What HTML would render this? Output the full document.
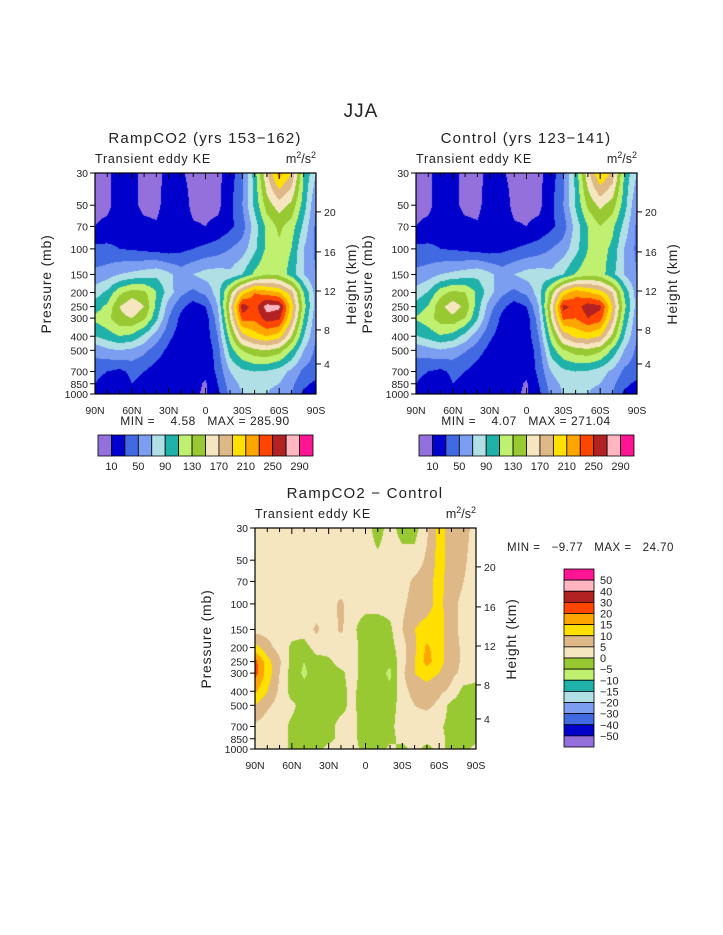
<!DOCTYPE html>
<html><head><meta charset="utf-8">
<style>
html,body{margin:0;padding:0;background:#fff;}
#root{position:relative;width:723px;height:935px;overflow:hidden;font-family:"Liberation Sans",sans-serif;}
canvas{position:absolute;}
svg{position:absolute;left:0;top:0;}
svg text{white-space:pre;}
</style></head>
<body>
<div id="root">
<canvas id="c1" width="221" height="221" style="left:95px;top:173px"></canvas>
<canvas id="c2" width="221" height="221" style="left:416px;top:173px"></canvas>
<canvas id="c3" width="221" height="221" style="left:255px;top:528px"></canvas>
<svg id="svg" width="723" height="935">
<text x="361" y="117" font-size="19" text-anchor="middle" fill="#222" letter-spacing="1">JJA</text>
</svg>
</div>
<script>
// ---- data ----
const pLevels = [1000,850,700,500,400,300,250,200,150,100,70,50,30];
const latLabels = ["90N","60N","30N","0","30S","60S","90S"];
const pTickLabels = [30,50,70,100,150,200,250,300,400,500,700,850,1000];
const kmTicks = [4,8,12,16,20];
const keLevels = [10,30,50,70,90,110,130,150,170,190,210,230,250,270,290];
const diffLevels = [-50,-40,-30,-20,-15,-10,-5,0,5,10,15,20,30,40,50];
const colors = ["#9370db","#0000cd","#4169e1","#7b9ef0","#b0e0e6","#20b2aa","#c0f070","#98c832","#f5e6c0","#deb887","#ffe000","#ffa500","#ff4500","#b22222","#ffb6c1","#ff1493"];
const rampKE = [
[20,15,18,30,25,15,15,15,12,8,25,55,70,75,70,60,50,25,20],
[30,15,15,30,25,15,15,15,15,8,30,60,75,80,75,70,55,35,25],
[40,30,25,35,30,20,15,12,12,15,35,70,85,90,88,80,65,45,40],
[55,65,70,65,55,40,25,15,10,15,40,100,130,145,150,140,110,70,45],
[90,100,110,105,85,60,35,20,12,18,50,120,180,200,210,200,150,90,50],
[115,125,145,150,135,95,50,25,15,20,60,150,240,235,260,255,190,110,55],
[100,115,150,165,150,105,60,35,20,30,70,160,262,240,280,275,200,120,60],
[80,95,125,140,135,110,80,55,45,55,80,140,200,230,220,210,180,110,60],
[55,60,70,75,80,85,75,60,70,78,80,75,90,115,130,125,100,70,50],
[35,35,30,28,25,22,20,25,30,35,40,50,60,85,115,125,110,70,45],
[10,15,20,20,15,12,20,20,12,10,15,25,40,80,115,135,120,85,45],
[5,5,20,15,5,5,20,20,5,5,5,25,50,95,140,160,145,100,50],
[5,5,20,15,5,5,15,12,5,5,5,20,45,100,170,220,190,110,70]];
const controlKE = [
[20,15,18,30,25,15,15,15,12,8,25,55,70,75,70,60,50,25,20],
[30,15,15,30,25,15,15,15,15,8,30,60,75,80,75,70,55,35,25],
[40,30,25,35,30,20,15,12,12,15,35,70,85,90,88,80,65,45,40],
[55,62,68,62,52,38,24,15,10,15,40,98,128,140,145,135,105,68,45],
[88,98,108,102,82,58,34,20,12,18,50,118,175,195,200,190,145,88,50],
[112,122,140,145,130,92,50,25,15,20,60,148,235,230,250,240,180,105,55],
[98,112,145,160,145,100,58,35,20,30,70,158,258,240,262,255,190,115,60],
[78,92,122,136,130,106,78,55,45,55,80,138,198,225,212,200,172,105,60],
[55,60,70,75,80,85,75,60,70,78,80,75,90,112,125,120,96,68,50],
[35,35,30,28,25,22,20,25,30,35,40,50,60,82,110,120,105,68,45],
[10,15,20,20,15,12,20,20,12,10,15,25,40,78,110,130,115,82,45],
[5,5,20,15,5,5,20,20,5,5,5,25,50,92,135,155,140,98,50],
[5,5,20,15,5,5,15,12,5,5,5,20,45,96,165,212,185,105,70]];
const diffKE = [
[2,2,2,-1,-2,-1,1,2,1,-1,-2,1,-1,1,-1,1,-1,-2,2],
[2,2,2,-1,-2,-1,-1,1,1,-2,-3,-1,1,1,1,1,-1,-2,-2],
[4,2,2,-1,-2,-2,-1,1,1,-2,-3,-1,2,3,2,1,-2,-3,-2],
[10,6,3,1,-2,-2,-1,-1,1,-3,-3,-2,2,5,6,4,-2,-3,-2],
[16,10,4,-2,-3,-2,-2,-1,1,-3,-3,-4,3,7,8,6,4,-2,-2],
[22,13,5,-2,-6,-2,-2,-1,2,-3,-3,-6,4,10,12,10,6,4,2],
[22,12,6,-2,-5,-2,-1,2,2,-3,-4,-4,3,10,17,12,7,4,2],
[12,7,3,-1,-2,2,2,2,2,-3,-5,-2,3,9,16,12,7,4,2],
[3,3,2,2,2,6,2,6,1,-3,-3,-1,5,10,12,13,6,4,2],
[2,2,2,2,2,2,3,6,2,2,2,2,4,7,8,12,6,4,2],
[2,2,2,2,2,2,2,2,2,2,2,2,3,6,8,12,7,5,2],
[2,2,2,2,2,2,2,2,2,2,1,2,2,2,6,12,8,6,2],
[2,2,2,2,2,2,2,2,2,2,-2,2,-2,-2,4,12,8,7,3]];
const kmFrac = {4:0.864,8:0.71,12:0.534,16:0.357,20:0.176};

// ---- helpers ----
const W=221,H=221,lnTop=Math.log(30),lnBot=Math.log(1000);
function yOfP(p){return H*(Math.log(p)-lnTop)/(lnBot-lnTop);}
function cat(v,lev){let c=0;while(c<lev.length&&v>=lev[c])c++;return c;}
function render(id,grid,lev){
  const ctx=document.getElementById(id).getContext('2d');
  const img=ctx.createImageData(W,H);
  const lnp=pLevels.map(Math.log);
  const rgb=colors.map(h=>[parseInt(h.substr(1,2),16),parseInt(h.substr(3,2),16),parseInt(h.substr(5,2),16)]);
  for(let py=0;py<H;py++){
    const lp=lnTop+(py+0.5)/H*(lnBot-lnTop);
    let k=0;while(k<lnp.length-2&&lp<lnp[k+1])k++;
    let t=(lnp[k]-lp)/(lnp[k]-lnp[k+1]);t=Math.max(0,Math.min(1,t));
    for(let px=0;px<W;px++){
      const fi=(px+0.5)/W*18;let i=Math.min(17,Math.floor(fi));const s=fi-i;
      const v=(1-t)*((1-s)*grid[k][i]+s*grid[k][i+1])+t*((1-s)*grid[k+1][i]+s*grid[k+1][i+1]);
      const c=rgb[cat(v,lev)];const o=(py*W+px)*4;
      img.data[o]=c[0];img.data[o+1]=c[1];img.data[o+2]=c[2];img.data[o+3]=255;
    }
  }
  ctx.putImageData(img,0,0);
}
render('c1',rampKE,keLevels);
render('c2',controlKE,keLevels);
render('c3',diffKE,diffLevels);

const svg=document.getElementById('svg');
const NS='http://www.w3.org/2000/svg';
function el(tag,attrs,txt){const e=document.createElementNS(NS,tag);for(const k in attrs)e.setAttribute(k,attrs[k]);if(txt!==undefined)e.textContent=txt;svg.appendChild(e);return e;}
function txt(x,y,s,size,anchor,name,rot,ls){
  const e=el('text',{x:x,y:y,'font-size':size,'text-anchor':anchor||'start',fill:'#222'},s);
  if(ls)e.setAttribute('letter-spacing',ls);
  if(rot)e.setAttribute('transform','rotate(-90 '+x+' '+y+')');
  
  
  return e;
}
function line(x1,y1,x2,y2,name){
  const e=el('line',{x1:x1,y1:y1,x2:x2,y2:y2,stroke:'#000','stroke-width':1});
  
  
}
function axes(ox,oy,title,pfx){
  txt(ox+110,oy-30,title,15,'middle',pfx+'-title',false,1.2);
  txt(ox,oy-10,'Transient eddy KE',12.5,'start',pfx+'-subtitle',false,0.8);
  const u=txt(ox+221,oy-10,'',12.5,'end',pfx+'-units');
  u.innerHTML='m<tspan dy="-5" font-size="9">2</tspan><tspan dy="5">/s</tspan><tspan dy="-5" font-size="9">2</tspan>';
  const r=el('rect',{x:ox,y:oy,width:W,height:H,fill:'none',stroke:'#000','stroke-width':1.2});
  
  
  for(let i=0;i<=36;i++){
    const x=ox+W*i/36,len=i%6===0?6:(i%2===0?4:0);
    if(!len)continue;
    line(x,oy+H,x,oy+H-len,pfx+'-x-tick');
    line(x,oy,x,oy+len,pfx+'-x-tick-top');
  }
  latLabels.forEach((l,j)=>txt(ox+W*j/6,oy+H+20,l,10.5,'middle',pfx+'-x-label'));
  pTickLabels.forEach(p=>{const y=oy+yOfP(p);line(ox-5,y,ox,y,pfx+'-y-tick');txt(ox-7,y+4,String(p),10.5,'end',pfx+'-y-label');});
  kmTicks.forEach(k=>{const y=oy+H*kmFrac[k];line(ox+W,y,ox+W+5,y,pfx+'-km-tick');txt(ox+W+8,y+4,String(k),10.5,'start',pfx+'-km-label');});
  txt(ox-44,oy+111,'Pressure (mb)',14,'middle',pfx+'-y-axis-title',true,0.8);
  txt(ox+W+40,oy+111,'Height (km)',14,'middle',pfx+'-km-axis-title',true,0.8);
}
function hbar(ox,oy,pfx){
  const bw=215/16;
  colors.forEach((c,i)=>{const r=el('rect',{x:ox+i*bw,y:oy,width:bw,height:21,fill:c,stroke:'#000','stroke-width':0.8});
    
    });
  keLevels.forEach((v,k)=>{if(k%2===0)txt(ox+(k+1)*bw,oy+35,String(v),11,'middle',pfx+'-colorbar-label');});
}
axes(95,173,'RampCO2 (yrs 153\u2212162)','ramp');
txt(205,425,'MIN =    4.58   MAX = 285.90',12,'middle','ramp-minmax',false,0.5);
hbar(98,435,'ramp');
axes(416,173,'Control (yrs 123\u2212141)','control');
txt(526,425,'MIN =    4.07   MAX = 271.04',12,'middle','control-minmax',false,0.5);
hbar(419,435,'control');
axes(255,528,'RampCO2 \u2212 Control','diff');
txt(507,551,'MIN =   \u22129.77   MAX =   24.70',11.5,'start','diff-minmax',false,0.5);
const bh=178/16;
colors.slice().reverse().forEach((c,i)=>{const r=el('rect',{x:564,y:569+i*bh,width:30,height:bh,fill:c,stroke:'#000','stroke-width':0.8});
  
  });
diffLevels.slice().reverse().forEach((v,k)=>txt(600,569+(k+1)*bh+4,String(v).replace('-','\u2212'),11,'start','diff-colorbar-label'));
</script>
</body></html>
